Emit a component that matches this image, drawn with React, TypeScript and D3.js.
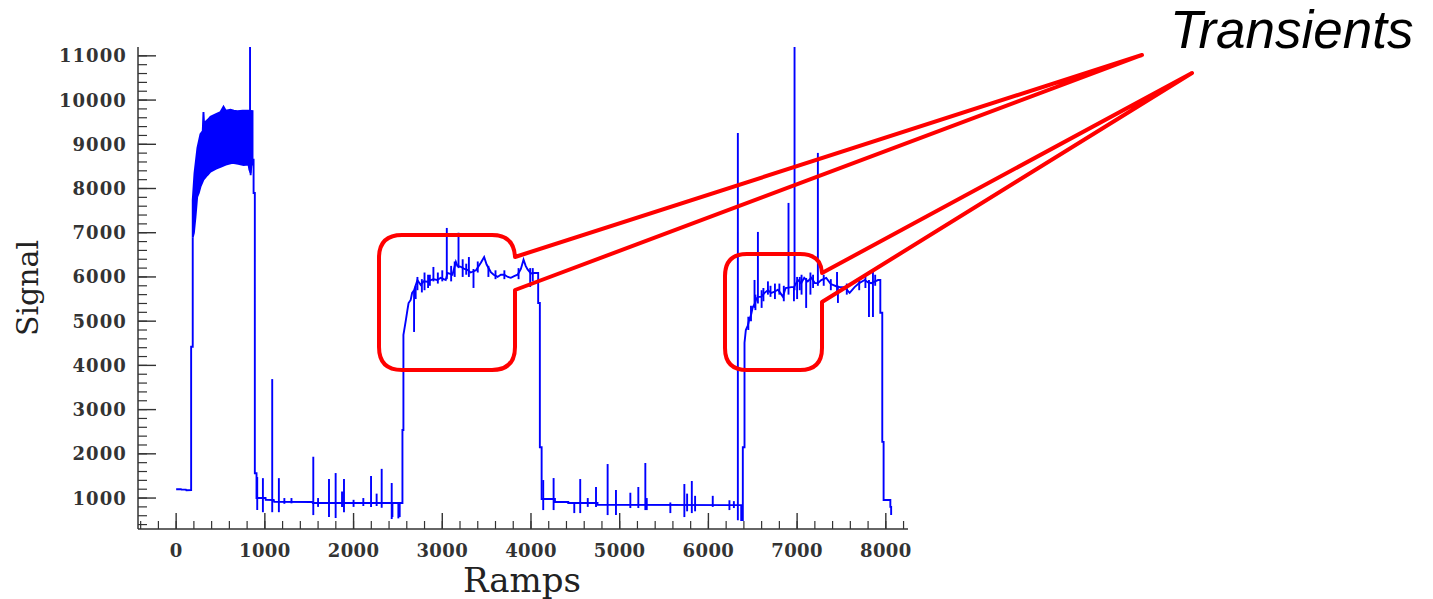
import React from "react";
import * as d3 from "d3";

type Pt = [number, number];
type Spike = [number, number, number];

// ramps 0 .. start of the dense band
const startLevel: Pt[] = [
  [0, 1200], [55, 1200], [60, 1190], [110, 1190], [115, 1175], [169, 1180],
  [169, 4420], [187, 4420], [187, 6900],
];

// envelope of the fast oscillation between ~190 and ~860 ramps
const bandUpper: Pt[] = [
  [187, 7740], [207, 8350], [240, 8920], [274, 9230], [300, 9300], [308, 9730],
  [315, 9450], [331, 9510], [360, 9560], [387, 9620], [450, 9680], [500, 9730],
  [534, 9850], [560, 9760], [613, 9780], [650, 9760], [692, 9750], [750, 9760],
  [816, 9760], [861, 9750],
];
const bandLower: Pt[] = [
  [187, 6900], [200, 7000], [218, 7360], [237, 7810], [255, 7900], [274, 8040],
  [308, 8200], [350, 8300], [387, 8380], [450, 8450], [500, 8490], [560, 8540],
  [635, 8580], [700, 8560], [760, 8530], [816, 8540], [825, 8430], [839, 8350],
  [850, 8530], [861, 8540],
];

const lowLevel1: Pt[] = [
  [861, 8650], [873, 8650], [873, 7900], [887, 7900], [887, 1560], [906, 1560],
  [906, 1000], [1008, 1000], [1010, 960], [1100, 955], [1105, 915], [1535, 910],
  [1540, 887], [2551, 887],
];

const plateau2: Pt[] = [
  [2551, 2540], [2562, 2540], [2562, 4690], [2577, 4870], [2590, 5030],
  [2607, 5250], [2620, 5410], [2644, 5480], [2660, 5640], [2682, 5700],
  [2720, 5930], [2740, 5870], [2757, 5820], [2790, 5900], [2833, 5890],
  [2870, 5930], [2900, 5950], [2940, 5930], [2983, 5980], [3039, 5930],
  [3060, 6090], [3115, 6050], [3153, 6340], [3170, 6250], [3209, 6230],
  [3250, 6180], [3284, 6160], [3320, 6100], [3380, 6150], [3435, 6320],
  [3472, 6450], [3500, 6280], [3547, 6110], [3580, 6050], [3623, 6000],
  [3660, 6050], [3698, 6050], [3740, 6000], [3773, 5980], [3810, 6020],
  [3849, 6050], [3886, 6180], [3916, 6390], [3940, 6250], [3962, 6170],
  [4000, 6080], [4036, 6090], [4074, 6090], [4081, 6090], [4081, 5410],
  [4100, 5410], [4100, 2150], [4120, 2150], [4120, 977],
];

const lowLevel2: Pt[] = [
  [4270, 977], [4270, 910], [4420, 910], [4420, 887], [4750, 887],
  [4750, 850], [6332, 840], [6370, 840], [6370, 500], [6388, 500],
];

const plateau3: Pt[] = [
  [6388, 2150], [6407, 2150], [6407, 4510], [6422, 4800], [6444, 4900],
  [6460, 5030], [6482, 5150], [6500, 5320], [6520, 5380], [6540, 5500],
  [6558, 5550], [6595, 5550], [6633, 5640], [6671, 5700], [6708, 5640],
  [6740, 5660], [6783, 5710], [6810, 5640], [6840, 5550], [6870, 5750],
  [6934, 5770], [6964, 5770], [7009, 5930], [7046, 5860], [7080, 5980],
  [7120, 5900], [7159, 5980], [7200, 5860], [7234, 5860], [7272, 5930],
  [7328, 5980], [7380, 5840], [7441, 5790], [7480, 5770], [7535, 5770],
  [7592, 5640], [7648, 5770], [7700, 5860], [7761, 5930], [7800, 5880],
  [7836, 5860], [7880, 5900], [7912, 5930], [7938, 5930], [7938, 5190],
  [7960, 5190], [7960, 2270], [7975, 2270], [7975, 955], [8051, 955],
  [8051, 800], [8060, 800], [8060, 615],
];

// [ramp, low, high]
const spikes: Spike[] = [
  [833, 9700, 11200], [840, 8300, 9750],
  [914, 730, 1475], [978, 680, 1450], [1083, 680, 3690], [1158, 680, 1450],
  [1220, 870, 1000], [1300, 880, 1000], [1546, 615, 1934], [1600, 800, 1000],
  [1723, 570, 1430], [1798, 548, 1565], [1870, 800, 1150], [1892, 680, 1430],
  [2000, 800, 960], [2110, 820, 1000], [2197, 800, 1498], [2260, 820, 1100],
  [2317, 780, 1660], [2430, 525, 1340], [2438, 570, 887], [2505, 540, 887],
  [2520, 570, 887],
  [2682, 4756, 5700], [2700, 5500, 5800], [2720, 5700, 6000], [2770, 5650, 5950],
  [2800, 5700, 6100], [2840, 5750, 6050], [2860, 5800, 6050], [2900, 5900, 6226],
  [2950, 5850, 6100], [3000, 5900, 6150], [3051, 5950, 7108], [3100, 5900, 6250],
  [3140, 6000, 6350], [3183, 6200, 7000], [3230, 6000, 6400], [3270, 6050, 6300],
  [3300, 6000, 6450], [3352, 5751, 6180], [3400, 6100, 6350], [3520, 6000, 6250],
  [3600, 5950, 6150], [3700, 5950, 6150], [3860, 5950, 6200], [3991, 5774, 6200],
  [4020, 5900, 6200],
  [4138, 728, 1407], [4255, 728, 1452], [4488, 660, 887], [4555, 660, 1430],
  [4640, 800, 1000], [4733, 800, 1250], [4864, 615, 1769], [4958, 615, 1180],
  [5120, 774, 1120], [5210, 774, 1250], [5289, 728, 1792], [5305, 728, 1000],
  [5571, 660, 900], [5729, 570, 1317], [5760, 700, 1100], [5813, 660, 1385],
  [5850, 700, 1050], [6049, 800, 1050], [6237, 728, 950], [6287, 774, 930],
  [6332, 500, 9258],
  [6450, 4800, 5100], [6480, 5000, 5350], [6520, 5300, 5932], [6530, 5250, 5600],
  [6558, 5400, 7018], [6600, 5300, 5700], [6620, 5450, 5750], [6671, 5600, 5900],
  [6700, 5550, 5800], [6750, 5500, 5850], [6800, 5600, 5850], [6850, 5450, 5800],
  [6903, 5600, 7674], [6964, 5450, 5770], [6971, 5700, 11200], [7000, 5500, 6000],
  [7030, 5700, 6000], [7050, 5600, 6050], [7102, 5299, 5977], [7150, 5600, 6100],
  [7180, 5750, 6050], [7234, 5800, 8805], [7300, 5800, 6050], [7380, 5700, 5950],
  [7450, 5600, 6113], [7460, 5412, 5800], [7560, 5600, 5850], [7700, 5700, 5950],
  [7770, 5750, 6000], [7810, 5095, 5930], [7855, 5095, 6150], [7880, 5800, 6050],
];

const xMajor = d3.range(0, 8001, 1000);
const xMinor = d3.range(-400, 8201, 200);
const yMajor = d3.range(1000, 11001, 1000);
const yMinor = d3.range(400, 11001, 200);

const W = 1433;
const H = 599;
const axisColor = "#333";
const blue = "#0000ff";
const red = "#ff0000";
const lw = 1.9;
const tickFont = { fontFamily: "DejaVu Serif", fontWeight: "bold", fontSize: 18, letterSpacing: 1.1 };

export default function App() {
  const x = d3.scaleLinear().domain([-430, 8250]).range([138, 908]);
  const y = d3.scaleLinear().domain([300, 11200]).range([529, 47]);
  const line = d3.line<Pt>().x(d => x(d[0])).y(d => y(d[1]));

  const trace = [...lowLevel1, ...plateau2, ...lowLevel2, ...plateau3];
  const bandPath = line([...bandUpper, ...bandLower.slice().reverse()]) + "Z";

  return (
    <svg width={W} height={H} style={{ position: "absolute", left: 0, top: 0, background: "#fff" }}>
      {/* data */}
      <path d={bandPath} fill={blue} stroke={blue} strokeWidth={lw} />
      <path d={line(startLevel) || ""} fill="none" stroke={blue} strokeWidth={lw} />
      <path d={line(trace) || ""} fill="none" stroke={blue} strokeWidth={lw} />
      {spikes.map((s, i) => (
        <line key={i} x1={x(s[0])} x2={x(s[0])} y1={y(s[1])} y2={y(s[2])} stroke={blue} strokeWidth={lw} />
      ))}

      {/* axes */}
      <line x1={138} x2={138} y1={47} y2={529} stroke={axisColor} strokeWidth={1.5} />
      <line x1={138} x2={908} y1={529} y2={529} stroke={axisColor} strokeWidth={1.5} />
      {yMinor.map(v => (
        <line key={"ym" + v} x1={138} x2={147} y1={y(v)} y2={y(v)} stroke={axisColor} strokeWidth={1.2} />
      ))}
      {yMajor.map(v => (
        <g key={"y" + v}>
          <line x1={138} x2={156} y1={y(v)} y2={y(v)} stroke={axisColor} strokeWidth={1.4} />
          <text x={127} y={y(v) + 6.5} textAnchor="end" fill={axisColor} style={tickFont}>{v}</text>
        </g>
      ))}
      {xMinor.map(v => (
        <line key={"xm" + v} x1={x(v)} x2={x(v)} y1={529} y2={521} stroke={axisColor} strokeWidth={1.2} />
      ))}
      {xMajor.map(v => (
        <g key={"x" + v}>
          <line x1={x(v)} x2={x(v)} y1={529} y2={513} stroke={axisColor} strokeWidth={1.4} />
          <text x={x(v)} y={557} textAnchor="middle" fill={axisColor}
            style={{ ...tickFont, letterSpacing: 0.4 }}>{v}</text>
        </g>
      ))}
      <text transform="translate(38,288) rotate(-90)" textAnchor="middle" fill="#222"
        style={{ fontFamily: "DejaVu Serif", fontSize: 30 }}>Signal</text>
      <text x={522} y={592} textAnchor="middle" fill="#222"
        style={{ fontFamily: "DejaVu Serif", fontSize: 34 }}>Ramps</text>

      {/* callouts */}
      <path d="M515,290 L515,347 Q515,370 492,370 L402,370 Q379,370 379,347 L379,258 Q379,235 402,235 L492,235 Q514,235 515,257 L1142,55 Z"
        fill="none" stroke={red} strokeWidth={4} strokeLinejoin="round" />
      <path d="M822,302 L822,348 Q822,370 800,370 L747,370 Q725,370 725,348 L725,276 Q725,254 747,254 L800,254 Q821,254 822,273 L1192,73 Z"
        fill="none" stroke={red} strokeWidth={4} strokeLinejoin="round" />
      <text x={1170} y={48} fill="#000"
        style={{ fontFamily: "Liberation Sans", fontStyle: "italic", fontSize: 53 }}>Transients</text>
    </svg>
  );
}
